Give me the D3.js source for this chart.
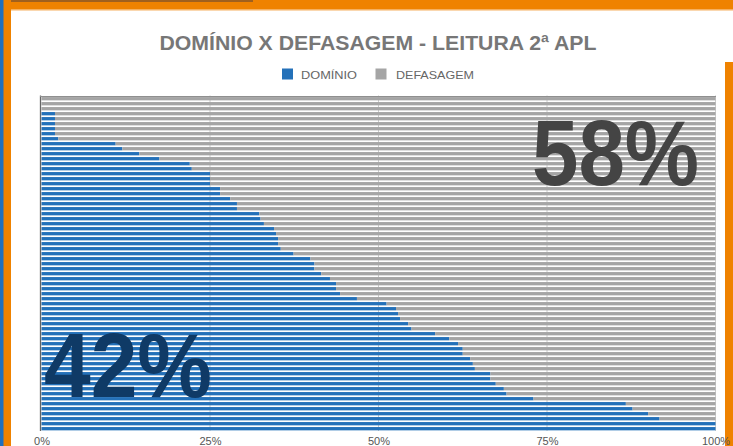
<!DOCTYPE html>
<html>
<head>
<meta charset="utf-8">
<script src="https://cdn.jsdelivr.net/npm/d3@7"></script>
<style>
  html, body { margin: 0; padding: 0; background: #ffffff; }
  svg { display: block; }
</style>
</head>
<body>
<svg id="chart" width="733" height="446"></svg>
<script>
// ---- data (percent per student, top to bottom) ----
const title = "DOMÍNIO X DEFASAGEM - LEITURA 2ª APL";
const seriesNames = ["DOMÍNIO", "DEFASAGEM"];
const dominio = [
  0, 0, 0, 2, 2, 2, 2, 2, 2.5, 11, 12, 14.5, 17.5, 22, 22.3,
  25, 25, 25, 26.5, 26.5, 28, 29, 29, 32.3, 32.5, 33,
  34.5, 34.8, 35.1, 35.1, 35.5, 37.4, 39.9, 40.5, 40.5, 41.5, 42.8, 43.7, 43.7, 44.3, 46.8,
  51.2, 52.6, 52.9, 53.2, 54.4, 54.9, 58.4, 60.5, 61.8, 62.5, 62.5, 63.6, 64, 64.3,
  66.6, 66.6, 67.4, 68.6, 69, 73, 86.7, 87.7, 90, 91.7, 100, 100
];
const defasagem = [
  100, 100, 100, 98, 98, 98, 98, 98, 97.5, 89, 88, 85.5, 82.5, 78, 77.7,
  75, 75, 75, 73.5, 73.5, 72, 71, 71, 67.7, 67.5, 67,
  65.5, 65.2, 64.9, 64.9, 64.5, 62.6, 60.1, 59.5, 59.5, 58.5, 57.2, 56.3, 56.3, 55.7, 53.2,
  48.8, 47.4, 47.1, 46.8, 45.6, 45.1, 41.6, 39.5, 38.2, 37.5, 37.5, 36.4, 36, 35.7,
  33.4, 33.4, 32.6, 31.4, 31, 27, 13.3, 12.3, 10, 8.3, 0, 0
];
const categories = dominio.map((d, i) => "Aluno " + (i + 1));
const tickValues = [0, 25, 50, 75, 100];
const tickLabels = ["0%", "25%", "50%", "75%", "100%"];
const bigLabels = ["42%", "58%"];

// ---- drawing ----
const svg = d3.select("#chart");
const W = 733, H = 446;
const FONT = "'Liberation Sans', Arial, sans-serif";
const colors = { "DOMÍNIO": "#2471b9", "DEFASAGEM": "#a5a5a5" };

// frame
svg.append("rect").attr("x", 0).attr("y", 0).attr("width", W).attr("height", H).attr("fill", "#ffffff");
svg.append("rect").attr("x", 0).attr("y", 0).attr("width", W).attr("height", 10).attr("fill", "#ef8200");
svg.append("rect").attr("x", 0).attr("y", 9).attr("width", W).attr("height", 1.5).attr("fill", "#f5b060");
svg.append("rect").attr("x", 0).attr("y", 0).attr("width", 253).attr("height", 2).attr("fill", "#a0601e");
svg.append("rect").attr("x", 0).attr("y", 0).attr("width", 11).attr("height", H).attr("fill", "#ef8200");
svg.append("rect").attr("x", 0).attr("y", 0).attr("width", 3.5).attr("height", H).attr("fill", "#1f6fbf");
svg.append("rect").attr("x", 725).attr("y", 62).attr("width", 8).attr("height", H - 62).attr("fill", "#ef8200");

const x = d3.scaleLinear().domain([0, 100]).range([41.5, 715.5]);
const y = d3.scaleBand().domain(categories).range([96.2, 431.2]).paddingInner(0.34).paddingOuter(0.17);

// gridlines
const grid = svg.append("g");
grid.selectAll("line").data(tickValues.slice(1)).join("line")
  .attr("x1", d => x(d)).attr("x2", d => x(d))
  .attr("y1", 95.5).attr("y2", 431)
  .attr("stroke", "#cccccc").attr("stroke-width", 1);

// stacked bars
const rows = categories.map((c, i) => ({ cat: c, "DOMÍNIO": dominio[i], "DEFASAGEM": defasagem[i] }));
const stack = d3.stack().keys(seriesNames)(rows);
svg.append("g").selectAll("g").data(stack).join("g")
  .attr("fill", s => colors[s.key])
  .selectAll("rect").data(s => s).join("rect")
  .attr("x", d => x(d[0]))
  .attr("width", d => Math.max(0, x(d[1]) - x(d[0])))
  .attr("y", d => y(d.data.cat))
  .attr("height", y.bandwidth());

// left axis line
svg.append("line").attr("x1", 40.5).attr("x2", 40.5).attr("y1", 95.5).attr("y2", 431)
  .attr("stroke", "#666666").attr("stroke-width", 1.3);
// top line
svg.append("line").attr("x1", 40).attr("x2", 716).attr("y1", 96.5).attr("y2", 96.5)
  .attr("stroke", "#8f8f8f").attr("stroke-width", 1);

// bottom axis (labels only)
const xAxis = d3.axisBottom(x).tickValues(tickValues).tickFormat((d, i) => tickLabels[i]).tickSize(0).tickPadding(0);
const ax = svg.append("g").attr("transform", "translate(0,437)").call(xAxis);
ax.select(".domain").remove();
ax.selectAll("text").attr("font-family", FONT).attr("font-size", 11).attr("fill", "#555555").attr("dy", "0.75em");

// title
svg.append("text").attr("x", 378).attr("y", 50).attr("text-anchor", "middle")
  .attr("font-family", FONT).attr("font-weight", "bold").attr("font-size", 20)
  .attr("fill", "#777777").attr("textLength", 437).attr("lengthAdjust", "spacingAndGlyphs")
  .text(title);

// legend
const legend = svg.append("g");
const legendItems = [
  { name: seriesNames[0], sx: 282, tx: 301, tw: 56 },
  { name: seriesNames[1], sx: 375.5, tx: 396, tw: 78 }
];
legendItems.forEach(it => {
  legend.append("rect").attr("x", it.sx).attr("y", 68.5).attr("width", 11).attr("height", 11).attr("fill", colors[it.name]);
  legend.append("text").attr("x", it.tx).attr("y", 78.5)
    .attr("font-family", FONT).attr("font-size", 11).attr("fill", "#666666")
    .attr("textLength", it.tw).attr("lengthAdjust", "spacingAndGlyphs")
    .text(it.name);
});

// big percentage labels
svg.append("text").attr("x", 44).attr("y", 397)
  .attr("font-family", FONT).attr("font-weight", "bold").attr("font-size", 90)
  .attr("fill", "#0f3a66").attr("textLength", 168).attr("lengthAdjust", "spacingAndGlyphs")
  .text(bigLabels[0]);
svg.append("text").attr("x", 532).attr("y", 185)
  .attr("font-family", FONT).attr("font-weight", "bold").attr("font-size", 92)
  .attr("fill", "#444444").attr("textLength", 167).attr("lengthAdjust", "spacingAndGlyphs")
  .text(bigLabels[1]);
</script>
</body>
</html>
